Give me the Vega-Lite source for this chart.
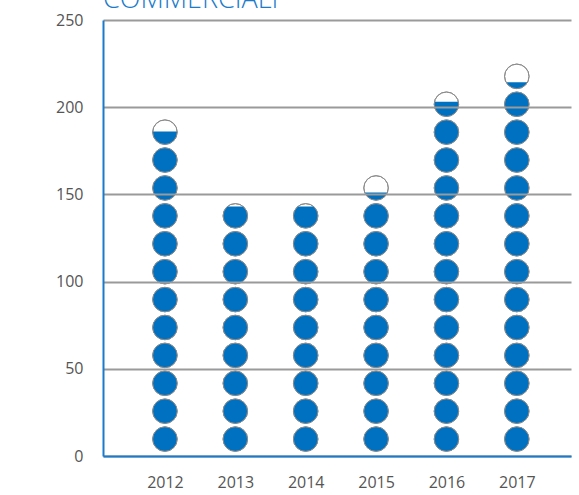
{
  "$schema": "https://vega.github.io/schema/vega-lite/v6.json",
  "width": 468,
  "height": 436,
  "autosize": {"type": "none"},
  "padding": {"left": 103, "top": 20, "right": 8, "bottom": 39},
  "background": "white",
  "title": {
    "text": "COMMERCIALI",
    "anchor": "start",
    "frame": "group",
    "baseline": "alphabetic",
    "offset": 0,
    "dy": 23,
    "fontSize": 27,
    "font": "Open Sans",
    "fontWeight": 300,
    "color": "#1B7BCB"
  },
  "config": {
    "view": {"stroke": null},
    "axis": {
      "labelFont": "Open Sans",
      "labelFontSize": 16,
      "labelColor": "#555555",
      "ticks": false,
      "tickSize": 0,
      "title": null,
      "domainColor": "#1B7BCB",
      "domainWidth": 2
    }
  },
  "data": {
    "values": [
      {"year": 2012, "level": 16, "f": 1}, {"year": 2012, "level": 32, "f": 1}, {"year": 2012, "level": 48, "f": 1}, {"year": 2012, "level": 64, "f": 1}, {"year": 2012, "level": 80, "f": 1}, {"year": 2012, "level": 96, "f": 1}, {"year": 2012, "level": 112, "f": 1}, {"year": 2012, "level": 128, "f": 1}, {"year": 2012, "level": 144, "f": 1}, {"year": 2012, "level": 160, "f": 1}, {"year": 2012, "level": 176, "f": 1}, {"year": 2012, "level": 192, "f": 0.53},
      {"year": 2013, "level": 16, "f": 1}, {"year": 2013, "level": 32, "f": 1}, {"year": 2013, "level": 48, "f": 1}, {"year": 2013, "level": 64, "f": 1}, {"year": 2013, "level": 80, "f": 1}, {"year": 2013, "level": 96, "f": 1}, {"year": 2013, "level": 112, "f": 1}, {"year": 2013, "level": 128, "f": 1}, {"year": 2013, "level": 144, "f": 0.88},
      {"year": 2014, "level": 16, "f": 1}, {"year": 2014, "level": 32, "f": 1}, {"year": 2014, "level": 48, "f": 1}, {"year": 2014, "level": 64, "f": 1}, {"year": 2014, "level": 80, "f": 1}, {"year": 2014, "level": 96, "f": 1}, {"year": 2014, "level": 112, "f": 1}, {"year": 2014, "level": 128, "f": 1}, {"year": 2014, "level": 144, "f": 0.88},
      {"year": 2015, "level": 16, "f": 1}, {"year": 2015, "level": 32, "f": 1}, {"year": 2015, "level": 48, "f": 1}, {"year": 2015, "level": 64, "f": 1}, {"year": 2015, "level": 80, "f": 1}, {"year": 2015, "level": 96, "f": 1}, {"year": 2015, "level": 112, "f": 1}, {"year": 2015, "level": 128, "f": 1}, {"year": 2015, "level": 144, "f": 1}, {"year": 2015, "level": 160, "f": 0.31},
      {"year": 2016, "level": 16, "f": 1}, {"year": 2016, "level": 32, "f": 1}, {"year": 2016, "level": 48, "f": 1}, {"year": 2016, "level": 64, "f": 1}, {"year": 2016, "level": 80, "f": 1}, {"year": 2016, "level": 96, "f": 1}, {"year": 2016, "level": 112, "f": 1}, {"year": 2016, "level": 128, "f": 1}, {"year": 2016, "level": 144, "f": 1}, {"year": 2016, "level": 160, "f": 1}, {"year": 2016, "level": 176, "f": 1}, {"year": 2016, "level": 192, "f": 1}, {"year": 2016, "level": 208, "f": 0.6},
      {"year": 2017, "level": 16, "f": 1}, {"year": 2017, "level": 32, "f": 1}, {"year": 2017, "level": 48, "f": 1}, {"year": 2017, "level": 64, "f": 1}, {"year": 2017, "level": 80, "f": 1}, {"year": 2017, "level": 96, "f": 1}, {"year": 2017, "level": 112, "f": 1}, {"year": 2017, "level": 128, "f": 1}, {"year": 2017, "level": 144, "f": 1}, {"year": 2017, "level": 160, "f": 1}, {"year": 2017, "level": 176, "f": 1}, {"year": 2017, "level": 192, "f": 1}, {"year": 2017, "level": 208, "f": 1}, {"year": 2017, "level": 224, "f": 0.26}
    ]
  },
  "encoding": {
    "x": {
      "field": "year",
      "type": "quantitative",
      "scale": {"domain": [2011.12, 2017.77], "nice": false, "zero": false},
      "axis": {
        "values": [2012, 2013, 2014, 2015, 2016, 2017],
        "format": "d",
        "grid": false,
        "labelPadding": 18,
        "labelFlush": false,
        "zindex": 2
      }
    },
    "y": {
      "field": "level",
      "type": "quantitative",
      "scale": {"domain": [0, 250], "nice": false},
      "axis": {
        "values": [0, 50, 100, 150, 200, 250],
        "grid": true,
        "gridColor": "#9a9a9a",
        "gridWidth": 2,
        "labelPadding": 20,
        "labelFlush": false,
        "zindex": 1
      }
    }
  },
  "layer": [
    {
      "mark": {"type": "point", "filled": true, "shape": "circle", "size": 600, "fill": "white", "stroke": "#8c8c8c", "strokeWidth": 1, "opacity": 1, "yOffset": 11}
    },
    {
      "mark": {"type": "point", "filled": true, "size": 600, "fill": "#0070C0", "strokeWidth": 0, "opacity": 1, "yOffset": 11},
      "encoding": {
        "shape": {
          "field": "f",
          "type": "nominal",
          "legend": null,
          "scale": {
            "domain": [1, 0.88, 0.6, 0.53, 0.31, 0.26],
            "range": [
              "circle",
              "M0.65,-0.76L0.7071,-0.7071L0.866,-0.5L0.9659,-0.2588L1,0L0.9659,0.2588L0.866,0.5L0.7071,0.7071L0.5,0.866L0.2588,0.9659L0,1L-0.2588,0.9659L-0.5,0.866L-0.7071,0.7071L-0.866,0.5L-0.9659,0.2588L-1,0L-0.9659,-0.2588L-0.866,-0.5L-0.7071,-0.7071L-0.65,-0.76Z",
              "M0.98,-0.2L1,0L0.9659,0.2588L0.866,0.5L0.7071,0.7071L0.5,0.866L0.2588,0.9659L0,1L-0.2588,0.9659L-0.5,0.866L-0.7071,0.7071L-0.866,0.5L-0.9659,0.2588L-1,0L-0.98,-0.2Z",
              "M0.998,-0.06L1,0L0.9659,0.2588L0.866,0.5L0.7071,0.7071L0.5,0.866L0.2588,0.9659L0,1L-0.2588,0.9659L-0.5,0.866L-0.7071,0.7071L-0.866,0.5L-0.9659,0.2588L-1,0L-0.998,-0.06Z",
              "M0.925,0.38L0.866,0.5L0.7071,0.7071L0.5,0.866L0.2588,0.9659L0,1L-0.2588,0.9659L-0.5,0.866L-0.7071,0.7071L-0.866,0.5L-0.925,0.38Z",
              "M0.877,0.48L0.866,0.5L0.7071,0.7071L0.5,0.866L0.2588,0.9659L0,1L-0.2588,0.9659L-0.5,0.866L-0.7071,0.7071L-0.866,0.5L-0.877,0.48Z"
            ]
          }
        }
      }
    },
    {
      "mark": {"type": "point", "filled": false, "shape": "circle", "size": 600, "stroke": "#8c8c8c", "strokeWidth": 1, "opacity": 1, "yOffset": 11}
    }
  ]
}
